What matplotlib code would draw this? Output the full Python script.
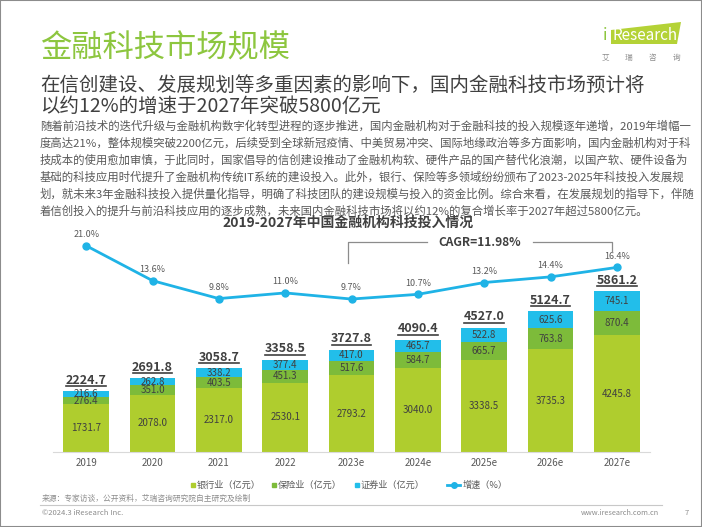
import matplotlib
matplotlib.use("Agg")
import matplotlib.pyplot as plt
from matplotlib.lines import Line2D
from matplotlib.patches import Polygon, Rectangle

plt.rcParams["font.family"] = ["Noto Sans CJK SC", "DejaVu Sans"]

years = ["2019", "2020", "2021", "2022", "2023e", "2024e", "2025e", "2026e", "2027e"]
bank = [1731.7, 2078.0, 2317.0, 2530.1, 2793.2, 3040.0, 3338.5, 3735.3, 4245.8]
insurance = [276.4, 351.0, 403.5, 451.3, 517.6, 584.7, 665.7, 763.8, 870.4]
securities = [216.6, 262.8, 338.2, 377.4, 417.0, 465.7, 522.8, 625.6, 745.1]
totals = [2224.7, 2691.8, 3058.7, 3358.5, 3727.8, 4090.4, 4527.0, 5124.7, 5861.2]
growth = [21.0, 13.6, 9.8, 11.0, 9.7, 10.7, 13.2, 14.4, 16.4]

paragraph = [
    "随着前沿技术的迭代升级与金融机构数字化转型进程的逐步推进，国内金融机构对于金融科技的投入规模逐年递增，2019年增幅一",
    "度高达21%，整体规模突破2200亿元，后续受到全球新冠疫情、中美贸易冲突、国际地缘政治等多方面影响，国内金融机构对于科",
    "技成本的使用愈加审慎，于此同时，国家倡导的信创建设推动了金融机构软、硬件产品的国产替代化浪潮，以国产软、硬件设备为",
    "基础的科技应用时代提升了金融机构传统IT系统的建设投入。此外，银行、保险等多领域纷纷颁布了2023-2025年科技投入发展规",
    "划，就未来3年金融科技投入提供量化指导，明确了科技团队的建设规模与投入的资金比例。综合来看，在发展规划的指导下，伴随",
    "着信创投入的提升与前沿科技应用的逐步成熟，未来国内金融科技市场将以约12%的复合增长率于2027年超过5800亿元。",
]

C_BANK = "#AFCD2E"
C_INS = "#7DBB3A"
C_SEC = "#22BEEA"
C_LINE = "#1FB3E6"
C_TITLE = "#8DC63F"
C_DARK = "#404040"
C_GRAY = "#595959"
C_LIGHT = "#8C8C8C"

W, H = 702, 527


def fx(x):
    return x / W


def fy(y):
    return 1 - y / H


fig = plt.figure(figsize=(W / 100, H / 100), dpi=100)

# frame
fig.patches.append(Rectangle((0, 0), 1, 1, transform=fig.transFigure, fill=False,
                             edgecolor="#8C8C8C", linewidth=1.5))

# header
fig.text(fx(40), fy(48), "金融科技市场规模", fontsize=22.5, color=C_TITLE, va="center")
fig.text(fx(40), fy(85), "在信创建设、发展规划等多重因素的影响下，国内金融科技市场预计将",
         fontsize=14, color=C_DARK, va="center")
fig.text(fx(40), fy(106), "以约12%的增速于2027年突破5800亿元", fontsize=14, color=C_DARK, va="center")

for i, line in enumerate(paragraph):
    fig.text(fx(40), fy(126 + i * 16.9), line, fontsize=8.2, color=C_GRAY, va="center")

# logo
logo = Polygon([(fx(611), fy(30)), (fx(681), fy(22)), (fx(677), fy(44)), (fx(611), fy(44))],
               closed=True, transform=fig.transFigure, facecolor="#B4D236", edgecolor="none")
fig.patches.append(logo)
fig.text(fx(605), fy(36), "i", fontsize=12, color=C_TITLE, va="center", ha="center")
fig.text(fx(612), fy(36), "Research", fontsize=11, color="white", va="center")
for cx, ch in zip([605, 628, 652, 677], "艾瑞咨询"):
    fig.text(fx(cx), fy(58), ch, fontsize=5.5, color=C_LIGHT, va="center", ha="center")

# chart
ax = fig.add_axes([fx(53), fy(452), fx(650) - fx(53), (452 - 235) / H])
x = list(range(len(years)))
bw = 0.69
bottom2 = [b + i for b, i in zip(bank, insurance)]
ax.bar(x, bank, width=bw, color=C_BANK, zorder=2)
ax.bar(x, insurance, width=bw, bottom=bank, color=C_INS, zorder=2)
ax.bar(x, securities, width=bw, bottom=bottom2, color=C_SEC, zorder=2)
ax.set_xlim(-0.5, 8.5)
ax.set_ylim(0, 7900)

for i in x:
    ax.text(i, bank[i] / 2, f"{bank[i]:.1f}", ha="center", va="center", fontsize=7, color=C_DARK)
    ax.text(i, bank[i] + insurance[i] / 2, f"{insurance[i]:.1f}", ha="center", va="center",
            fontsize=7, color=C_DARK)
    ax.text(i, bottom2[i] + securities[i] / 2, f"{securities[i]:.1f}", ha="center", va="center",
            fontsize=7, color=C_DARK)
    ax.annotate(f"{totals[i]:.1f}", (i, totals[i]), xytext=(0, 7.8), textcoords="offset points",
                ha="center", va="center", fontsize=9, fontweight="bold", color=C_DARK)
    ax.plot([i - 0.3, i + 0.3], [totals[i] + 182, totals[i] + 182], color=C_DARK, lw=1.2)

ax.set_xticks(x)
ax.set_xticklabels(years, fontsize=7, color=C_GRAY)
ax.tick_params(axis="x", length=0, pad=4)
ax.set_yticks([])
for side in ["top", "left", "right"]:
    ax.spines[side].set_visible(False)
ax.spines["bottom"].set_color("#D9D9D9")
ax.patch.set_alpha(0)

ax2 = ax.twinx()
ax2.set_ylim(-22.7, 23.27)
ax2.plot(x, growth, color=C_LINE, lw=2, marker="o", markersize=5, zorder=3)
for i in x:
    ax2.annotate(f"{growth[i]:.1f}%", (i, growth[i]), xytext=(0, 8), textcoords="offset points",
                 ha="center", va="center", fontsize=6.5, color=C_GRAY)
ax2.set_yticks([])
for side in ["top", "left", "right", "bottom"]:
    ax2.spines[side].set_visible(False)

# chart title and CAGR bracket
fig.text(fx(348), fy(223), "2019-2027年中国金融机构科技投入情况", fontsize=10, fontweight="bold",
         color=C_DARK, ha="center", va="center")
bracket = "#8C8C8C"
fig.add_artist(Line2D([fx(348), fx(348), fx(427)], [fy(263), fy(242), fy(242)],
                      color=bracket, lw=0.9))
fig.add_artist(Line2D([fx(533), fx(612), fx(612)], [fy(242), fy(242), fy(252)],
                      color=bracket, lw=0.9))
fig.text(fx(480), fy(242), "CAGR=11.98%", fontsize=8.6, fontweight="bold", color=C_DARK,
         ha="center", va="center")

# legend
leg_y = fy(485)
for sx, col, label in [(193, C_BANK, "银行业（亿元）"), (274, C_INS, "保险业（亿元）"),
                       (357, C_SEC, "证券业（亿元）")]:
    fig.add_artist(Line2D([fx(sx)], [leg_y], marker="s", markersize=3.5, color=col, lw=0))
    fig.text(fx(sx + 4), leg_y, label, fontsize=6.6, color=C_GRAY, va="center")
fig.add_artist(Line2D([fx(447), fx(460)], [leg_y, leg_y], color=C_LINE, lw=2))
fig.add_artist(Line2D([fx(453.5)], [leg_y], color=C_LINE, marker="o", markersize=4, lw=0))
fig.text(fx(463), leg_y, "增速（%）", fontsize=6.6, color=C_GRAY, va="center")

# footer
fig.text(fx(42), fy(499), "来源：专家访谈，公开资料，艾瑞咨询研究院自主研究及绘制", fontsize=5.6,
         color=C_LIGHT, va="center")
fig.add_artist(Line2D([fx(40), fx(662)], [fy(505), fy(505)], color="#C8C8C8", lw=0.8))
fig.text(fx(42), fy(513), "©2024.3 iResearch Inc.", fontsize=5.5, color=C_LIGHT, va="center")
fig.text(fx(659), fy(513), "www.iresearch.com.cn", fontsize=5.3, color=C_LIGHT,
         va="center", ha="right")
fig.text(fx(687), fy(513), "7", fontsize=5.5, color=C_LIGHT, va="center", ha="center")

fig.savefig("out.png", dpi=100)
